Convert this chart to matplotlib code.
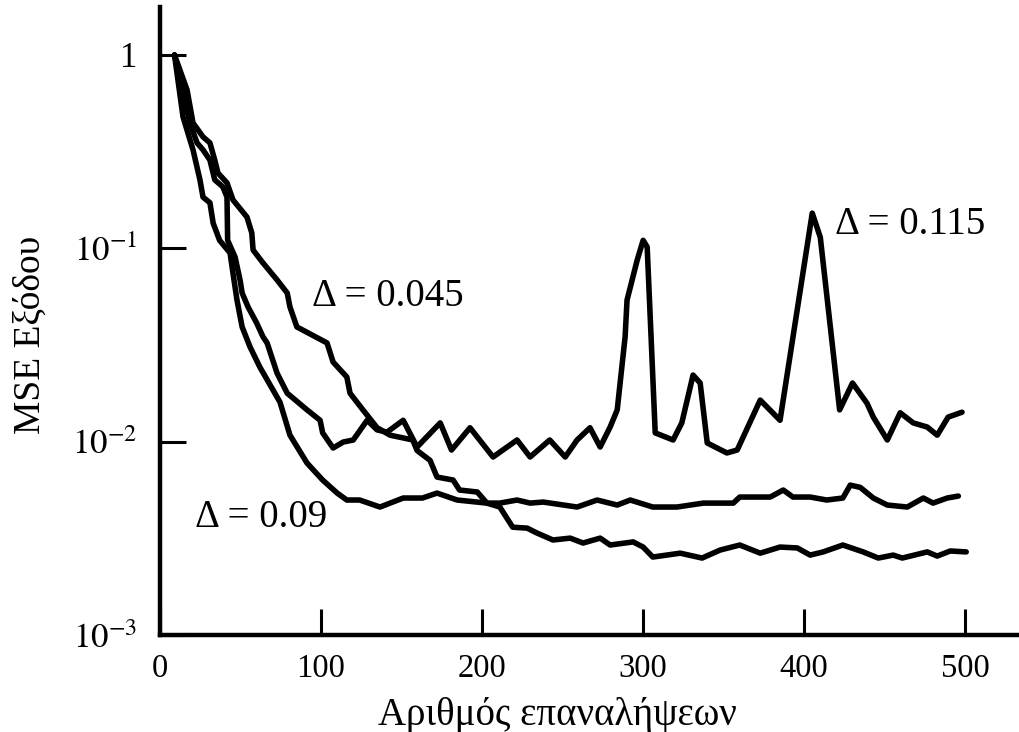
import matplotlib

matplotlib.use("Agg")
import matplotlib.pyplot as plt  # noqa: E402

plt.rcParams["font.family"] = ["Liberation Serif", "DejaVu Serif"]
plt.rcParams["mathtext.fontset"] = "stix"

# Δ = 0.045 (αργή σύγκλιση, χαμηλότερο τελικό MSE)
x_045 = [9, 16.8, 20.5, 26.7, 31, 34, 36, 41.6, 45.3, 54, 57, 57.8, 64, 72.7, 79, 80.7,
         85, 103.7, 107.5, 116, 118, 126, 134.8, 142.9, 157, 159.6, 167.7, 172, 182, 186,
         197, 203, 211, 219, 228, 234, 244, 254.7, 262.7, 273.3, 279.5, 293.8, 300, 306,
         323, 336.6, 347.8, 360, 372.7, 385, 395.7, 403.7, 411.8, 424, 436.6, 446, 455.3,
         460.9, 476.4, 482.6, 490.7, 500.6]
y_045 = [1.0, 0.659, 0.445, 0.377, 0.351, 0.286, 0.245, 0.218, 0.178, 0.145, 0.120, 0.098,
         0.0839, 0.0686, 0.0587, 0.0497, 0.0392, 0.0324, 0.0258, 0.0216, 0.0178, 0.0146,
         0.0118, 0.0108, 0.0102, 0.0090, 0.0080, 0.00656, 0.00633, 0.00562, 0.00549,
         0.00481, 0.00459, 0.00361, 0.00357, 0.00337, 0.00310, 0.00317, 0.00299, 0.00317,
         0.00292, 0.00303, 0.00285, 0.00253, 0.00265, 0.00250, 0.00275, 0.00292, 0.00265,
         0.00285, 0.00282, 0.00259, 0.00269, 0.00292, 0.00269, 0.00250, 0.00259, 0.00250,
         0.00269, 0.00256, 0.00272, 0.00269]

# Δ = 0.09
x_09 = [9, 14.3, 20.5, 24.8, 26.7, 31, 33, 37, 43.5, 45.3, 47.8, 51, 55.9, 62, 74.5, 80.7,
        91.3, 101, 110, 116, 124, 136.6, 151, 163, 172, 184.5, 203, 211, 221.7, 229.8, 238,
        259, 271.4, 283.9, 292, 306, 321, 337.3, 356, 360, 378.9, 387, 393, 403.7, 414, 424,
        428.6, 434.8, 442.9, 451.6, 464, 474, 480, 488.8, 495.7]
y_09 = [1.0, 0.478, 0.323, 0.226, 0.184, 0.172, 0.135, 0.110, 0.0946, 0.0745, 0.0540,
        0.0392, 0.0309, 0.0243, 0.0160, 0.0108, 0.00775, 0.00633, 0.00542, 0.00499, 0.00499,
        0.00459, 0.00511, 0.00511, 0.00542, 0.00499, 0.00481, 0.00481, 0.00499, 0.00481,
        0.00487, 0.00459, 0.00499, 0.00470, 0.00499, 0.00459, 0.00459, 0.00481, 0.00481,
        0.00517, 0.00517, 0.00562, 0.00517, 0.00517, 0.00499, 0.00511, 0.00596, 0.00580,
        0.00511, 0.00470, 0.00459, 0.00511, 0.00481, 0.00511, 0.00523]

# Δ = 0.115 (γρήγορη σύγκλιση, με εξάρσεις)
x_115 = [9, 18.6, 23, 26.7, 31, 34, 39, 41.6, 42, 46.6, 49.7, 51, 54.7, 60, 64, 66.5, 72.7,
         79, 91.3, 99.4, 101, 107.5, 113.7, 120, 128.6, 134.8, 141, 151, 159.6, 174, 181,
         192.5, 206.8, 221.7, 229.8, 242, 251.6, 259, 267, 273.3, 279.5, 283.9, 285.7, 288.8,
         290, 296.3, 300, 302.5, 307.5, 318.6, 324, 331, 335.4, 339.8, 352, 358.4, 372.7,
         385, 405, 410, 422, 430, 439, 442.9, 451.6, 459.6, 467.7, 476.4, 482.6, 489.4, 498]
y_115 = [1.0, 0.445, 0.351, 0.323, 0.286, 0.226, 0.208, 0.184, 0.110, 0.0902, 0.0686,
         0.0587, 0.0497, 0.0411, 0.0348, 0.0324, 0.0226, 0.0178, 0.0146, 0.0129, 0.0111,
         0.00927, 0.00995, 0.0102, 0.0129, 0.0115, 0.0112, 0.0129, 0.00938, 0.0125, 0.00905,
         0.0118, 0.00833, 0.0102, 0.00833, 0.0102, 0.00833, 0.0102, 0.0118, 0.00938, 0.0119,
         0.0146, 0.0201, 0.0348, 0.054, 0.0869, 0.110, 0.1016, 0.0111, 0.0102, 0.0125,
         0.0221, 0.0201, 0.00984, 0.00874, 0.00905, 0.0164, 0.0129, 0.152, 0.114, 0.0146,
         0.0201, 0.0158, 0.0134, 0.0102, 0.0141, 0.0125, 0.0119, 0.0108, 0.0134, 0.0142]

x_ticks = [0, 100, 200, 300, 400, 500]
x_ticklabels = ["0", "100", "200", "300", "400", "500"]
y_ticks = [1e-3, 1e-2, 1e-1, 1]
y_ticklabels = [r"$10^{-3}$", r"$10^{-2}$", r"$10^{-1}$", "1"]

fig = plt.figure(figsize=(10.2, 7.32), dpi=100)
ax = fig.add_axes([160 / 1020, 97 / 732, 860 / 1020, 628 / 732])

for xs, ys in [(x_045, y_045), (x_09, y_09), (x_115, y_115)]:
    ax.plot(xs, ys, color="black", lw=4.0, solid_joinstyle="round", solid_capstyle="round")

ax.set_yscale("log")
ax.set_xlim(0, 534)
ax.set_ylim(1e-3, 1.77)

for s in ("top", "right"):
    ax.spines[s].set_visible(False)
for s in ("left", "bottom"):
    ax.spines[s].set_linewidth(3.2)

ax.set_xticks(x_ticks)
ax.set_xticklabels(x_ticklabels)
ax.set_yticks(y_ticks)
ax.set_yticklabels(y_ticklabels)
ax.minorticks_off()
ax.tick_params(axis="both", direction="in", length=19, width=2.2)
ax.tick_params(axis="x", pad=13, labelsize=23.5)
ax.tick_params(axis="y", pad=16, labelsize=25)

ax.text(94.4, 0.056, "Δ = 0.045", fontsize=28, va="center", ha="left")
ax.text(21.7, 0.00403, "Δ = 0.09", fontsize=28, va="center", ha="left")
ax.text(419, 0.132, "Δ = 0.115", fontsize=28, va="center", ha="left")

fig.text(30 / 1020, 1 - 335 / 732, "MSE Εξόδου", rotation=90, ha="center", va="center",
         fontsize=27)
fig.text(557 / 1020, 1 - 715 / 732, "Αριθμός επαναλήψεων", ha="center", va="center",
         fontsize=28)

fig.savefig("out.png", dpi=100)
